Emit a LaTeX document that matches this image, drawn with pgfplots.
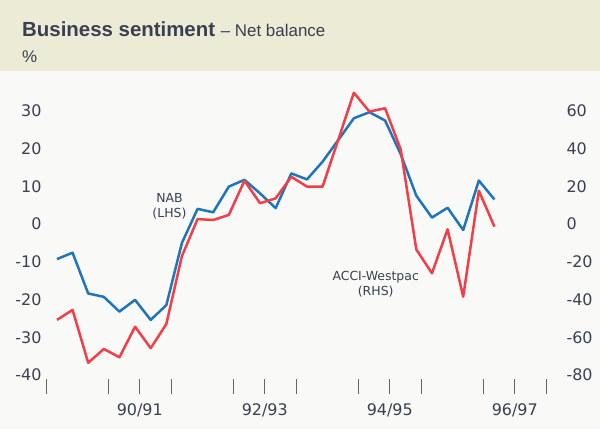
\documentclass[border=0pt]{standalone}
\usepackage{pgfplots}
\pgfplotsset{compat=1.18}
\usepackage{pgfplotstable}
\usepackage{fontspec}
\setmainfont{DejaVu Sans}
\newfontfamily\titlefont{Liberation Sans}
\definecolor{band}{RGB}{236,235,213}
\definecolor{bg}{RGB}{249,249,247}
\definecolor{nab}{RGB}{31,117,188}
\definecolor{acci}{RGB}{242,62,72}
\definecolor{txt}{RGB}{58,64,80}
\pgfplotstableread{
x nab acci
0.7 -9.3 -50.8
1.7 -7.6 -45.5
2.7 -18.4 -73.5
3.7 -19.3 -66.2
4.7 -23.2 -70.6
5.7 -20.1 -54.4
6.7 -25.4 -65.8
7.7 -21.5 -53.0
8.7 -5.0 -17.0
9.7 4.0 2.6
10.7 3.1 2.1
11.7 9.9 4.8
12.7 11.7 22.9
13.7 8.1 11.0
14.7 4.2 13.6
15.7 13.4 25.0
16.7 11.8 19.8
17.7 16.5 19.8
18.7 22.2 44.5
19.7 28.0 69.5
20.7 29.6 59.5
21.7 27.4 61.3
22.7 18.5 39.5
23.7 7.5 -13.5
24.7 1.7 -26.1
25.7 4.3 -2.8
26.7 -1.6 -38.5
27.7 11.5 17.6
28.7 6.5 -1.4
}\data
\begin{document}
\begin{tikzpicture}[x=1bp,y=1bp]
\fill[bg] (0,0) rectangle (600,429);
\fill[band] (0,358) rectangle (600,429);
\node[anchor=base west, inner sep=0pt, text=txt] at (22,392.3)
  {\titlefont\fontsize{20.5}{24}\selectfont\textbf{Business sentiment} {\fontsize{17}{20}\selectfont – Net balance}};
\node[anchor=base west, inner sep=0pt, text=txt] at (22,366.3)
  {\titlefont\fontsize{17}{20}\selectfont \%};
\begin{axis}[
  at={(46bp,50.2bp)}, anchor=south west,
  scale only axis, width=500bp, height=268.1bp,
  xmin=0, xmax=32, ymin=-41, ymax=30,
  clip=false,
  axis x line*=bottom, axis y line*=left,
  axis line style={draw=none},
  ytick={-40,-30,...,30},
  yticklabels={-40,-30,-20,-10,0,10,20,30},
  ytick style={draw=none},
  ytick align=inside,
  yticklabel style={anchor=east, xshift=-1bp, text=txt, font=\fontsize{16}{19}\selectfont},
  xtick={0,4,...,32},
  xticklabels={},
  xtick align=outside,
  major tick length=15bp,
  xtick style={draw=black!60, line width=0.9bp},
  extra x ticks={6,14,22,30},
  extra x tick labels={90/91,92/93,94/95,96/97},
  extra x tick style={tick style={draw=none}, tick label style={yshift=-6bp, text=txt, font=\fontsize{16}{19}\selectfont}},
]
\addplot[nab, line width=2.5bp, line join=round] table[x=x, y=nab] {\data};
\node[text=txt, align=center, font=\fontsize{12.5}{15}\selectfont] at (axis cs:7.9,4.6) {NAB\\(LHS)};
\node[text=txt, align=center, font=\fontsize{12.5}{15}\selectfont] at (axis cs:21.1,-16.0) {ACCI-Westpac\\(RHS)};
\end{axis}
\begin{axis}[
  at={(46bp,50.2bp)}, anchor=south west,
  scale only axis, width=500bp, height=268.1bp,
  xmin=0, xmax=32, ymin=-82, ymax=60,
  clip=false,
  axis x line=none, axis y line*=right,
  axis line style={draw=none},
  ytick={-80,-60,...,60},
  yticklabels={-80,-60,-40,-20,0,20,40,60},
  ytick style={draw=none},
  ytick align=inside,
  yticklabel style={anchor=west, xshift=17bp, text=txt, font=\fontsize{16}{19}\selectfont},
]
\addplot[acci, line width=2.5bp, line join=round] table[x=x, y=acci] {\data};
\end{axis}
\end{tikzpicture}
\end{document}
